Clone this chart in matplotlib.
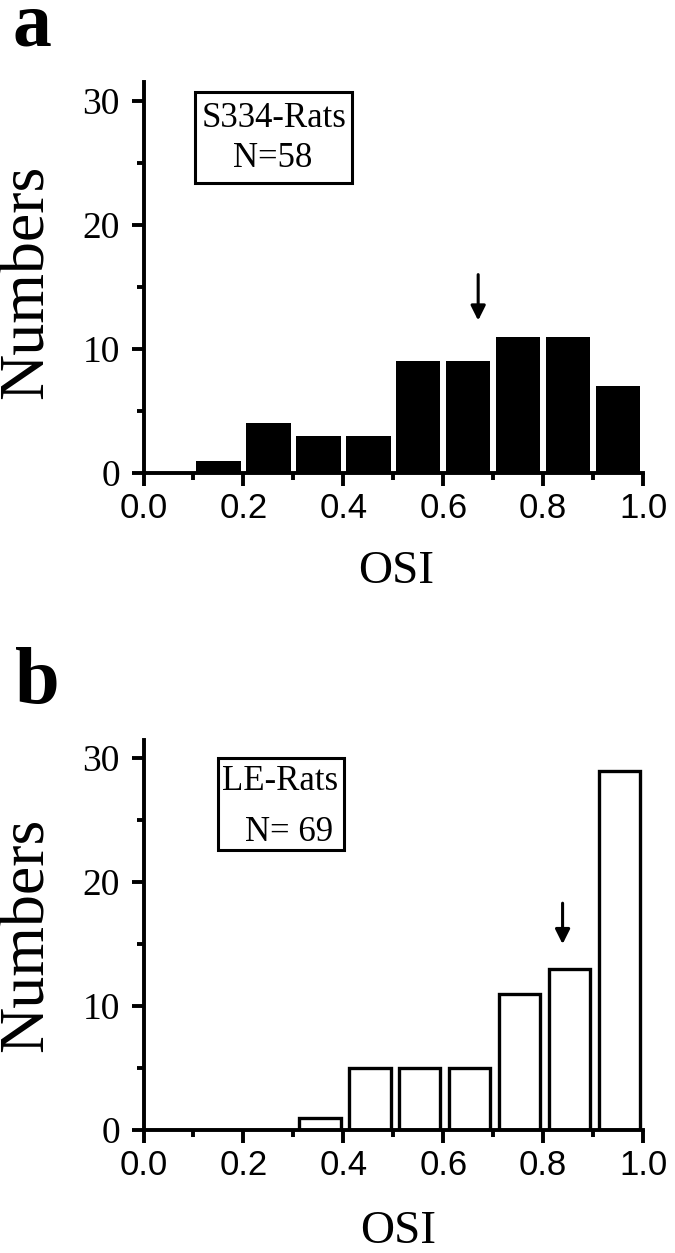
import numpy as np
import matplotlib.pyplot as plt
from matplotlib.patches import Rectangle
from matplotlib.ticker import MultipleLocator, FormatStrFormatter

# OSI histogram counts, bins of 0.1 from 0 to 1
bin_left = np.arange(0.0, 1.0, 0.1)
s334_counts = [0, 1, 4, 3, 3, 9, 9, 11, 11, 7]
le_counts = [0, 0, 0, 1, 5, 5, 5, 11, 13, 29]
s334_label, s334_n = "S334-Rats", "N=58"
le_label, le_n = "LE-Rats", "N= 69"
s334_arrow = 0.67
le_arrow = 0.839

serif = "Liberation Serif"
sans = "Liberation Sans"

fig = plt.figure(figsize=(6.75, 12.53), dpi=100)

def panel(rect, counts, filled, box, labels, arrow_x, arrow_y):
    ax = fig.add_axes(rect)
    centers = bin_left + 0.05
    if filled:
        ax.bar(centers, counts, width=0.089, color="k", edgecolor="none", zorder=2)
    else:
        ax.bar(centers + 0.003, counts, width=0.083, facecolor="white",
               edgecolor="k", linewidth=2.4, zorder=2)
    ax.set_xlim(0, 1.0)
    ax.set_ylim(0, 31.5)
    for s in ["top", "right"]:
        ax.spines[s].set_visible(False)
    for s in ["left", "bottom"]:
        ax.spines[s].set_linewidth(2.8)
        ax.spines[s].set_zorder(5)
    ax.xaxis.set_major_locator(MultipleLocator(0.2))
    ax.xaxis.set_minor_locator(MultipleLocator(0.1))
    ax.xaxis.set_major_formatter(FormatStrFormatter("%.1f"))
    ax.yaxis.set_major_locator(MultipleLocator(10))
    ax.yaxis.set_minor_locator(MultipleLocator(5))
    ax.tick_params(which="major", length=9, width=2.8, direction="out")
    ax.tick_params(which="minor", length=5, width=2.8, direction="out")
    ax.tick_params(axis="x", which="major", pad=5, labelsize=25)
    ax.tick_params(axis="y", which="major", pad=8, labelsize=27)
    for t in ax.get_xticklabels():
        t.set_fontfamily(sans)
    for t in ax.get_yticklabels():
        t.set_fontfamily(serif)
    x0, x1, y0, y1 = box
    ax.add_patch(Rectangle((x0, y0), x1 - x0, y1 - y0, fill=False,
                           linewidth=2.2, edgecolor="k", zorder=4))
    for (tx, ty, txt) in labels:
        ax.text(tx, ty, txt, ha="center", va="center", fontsize=25,
                family=serif, zorder=4)
    ax.annotate("", xy=(arrow_x, arrow_y[1]), xytext=(arrow_x, arrow_y[0]),
                arrowprops=dict(arrowstyle="-|>", lw=2.2, color="k",
                                mutation_scale=22, shrinkA=0, shrinkB=0))
    return ax

ax_a = panel([0.2126, 0.6225, 0.74, 0.3117], s334_counts, True,
             (0.103, 0.417, 23.4, 30.7),
             [(0.261, 28.6, s334_label), (0.259, 25.4, s334_n)],
             s334_arrow, (16.0, 12.3))
ax_b = panel([0.2126, 0.0982, 0.74, 0.3115], le_counts, False,
             (0.149, 0.402, 22.6, 30.0),
             [(0.273, 28.1, le_label), (0.292, 24.0, le_n)],
             le_arrow, (18.3, 15.0))

H = 1253.0
W = 675.0
# axis titles
fig.text(28 / W, 1 - 282 / H, "Numbers", rotation=90, ha="center", va="center",
         fontsize=46, family=serif)
fig.text(28 / W, 1 - 935 / H, "Numbers", rotation=90, ha="center", va="center",
         fontsize=46, family=serif)
fig.text(396 / W, 1 - 572 / H, "OSI", ha="center", va="center",
         fontsize=34, family=serif)
fig.text(398 / W, 1 - 1232 / H, "OSI", ha="center", va="center",
         fontsize=34, family=serif)
# panel letters
fig.text(32 / W, 1 - 46 / H, "a", ha="center", va="baseline",
         fontsize=56, family=serif, fontweight="bold")
fig.text(37 / W, 1 - 703 / H, "b", ha="center", va="baseline",
         fontsize=58, family=serif, fontweight="bold")

plt.savefig("out.png", dpi=100)
